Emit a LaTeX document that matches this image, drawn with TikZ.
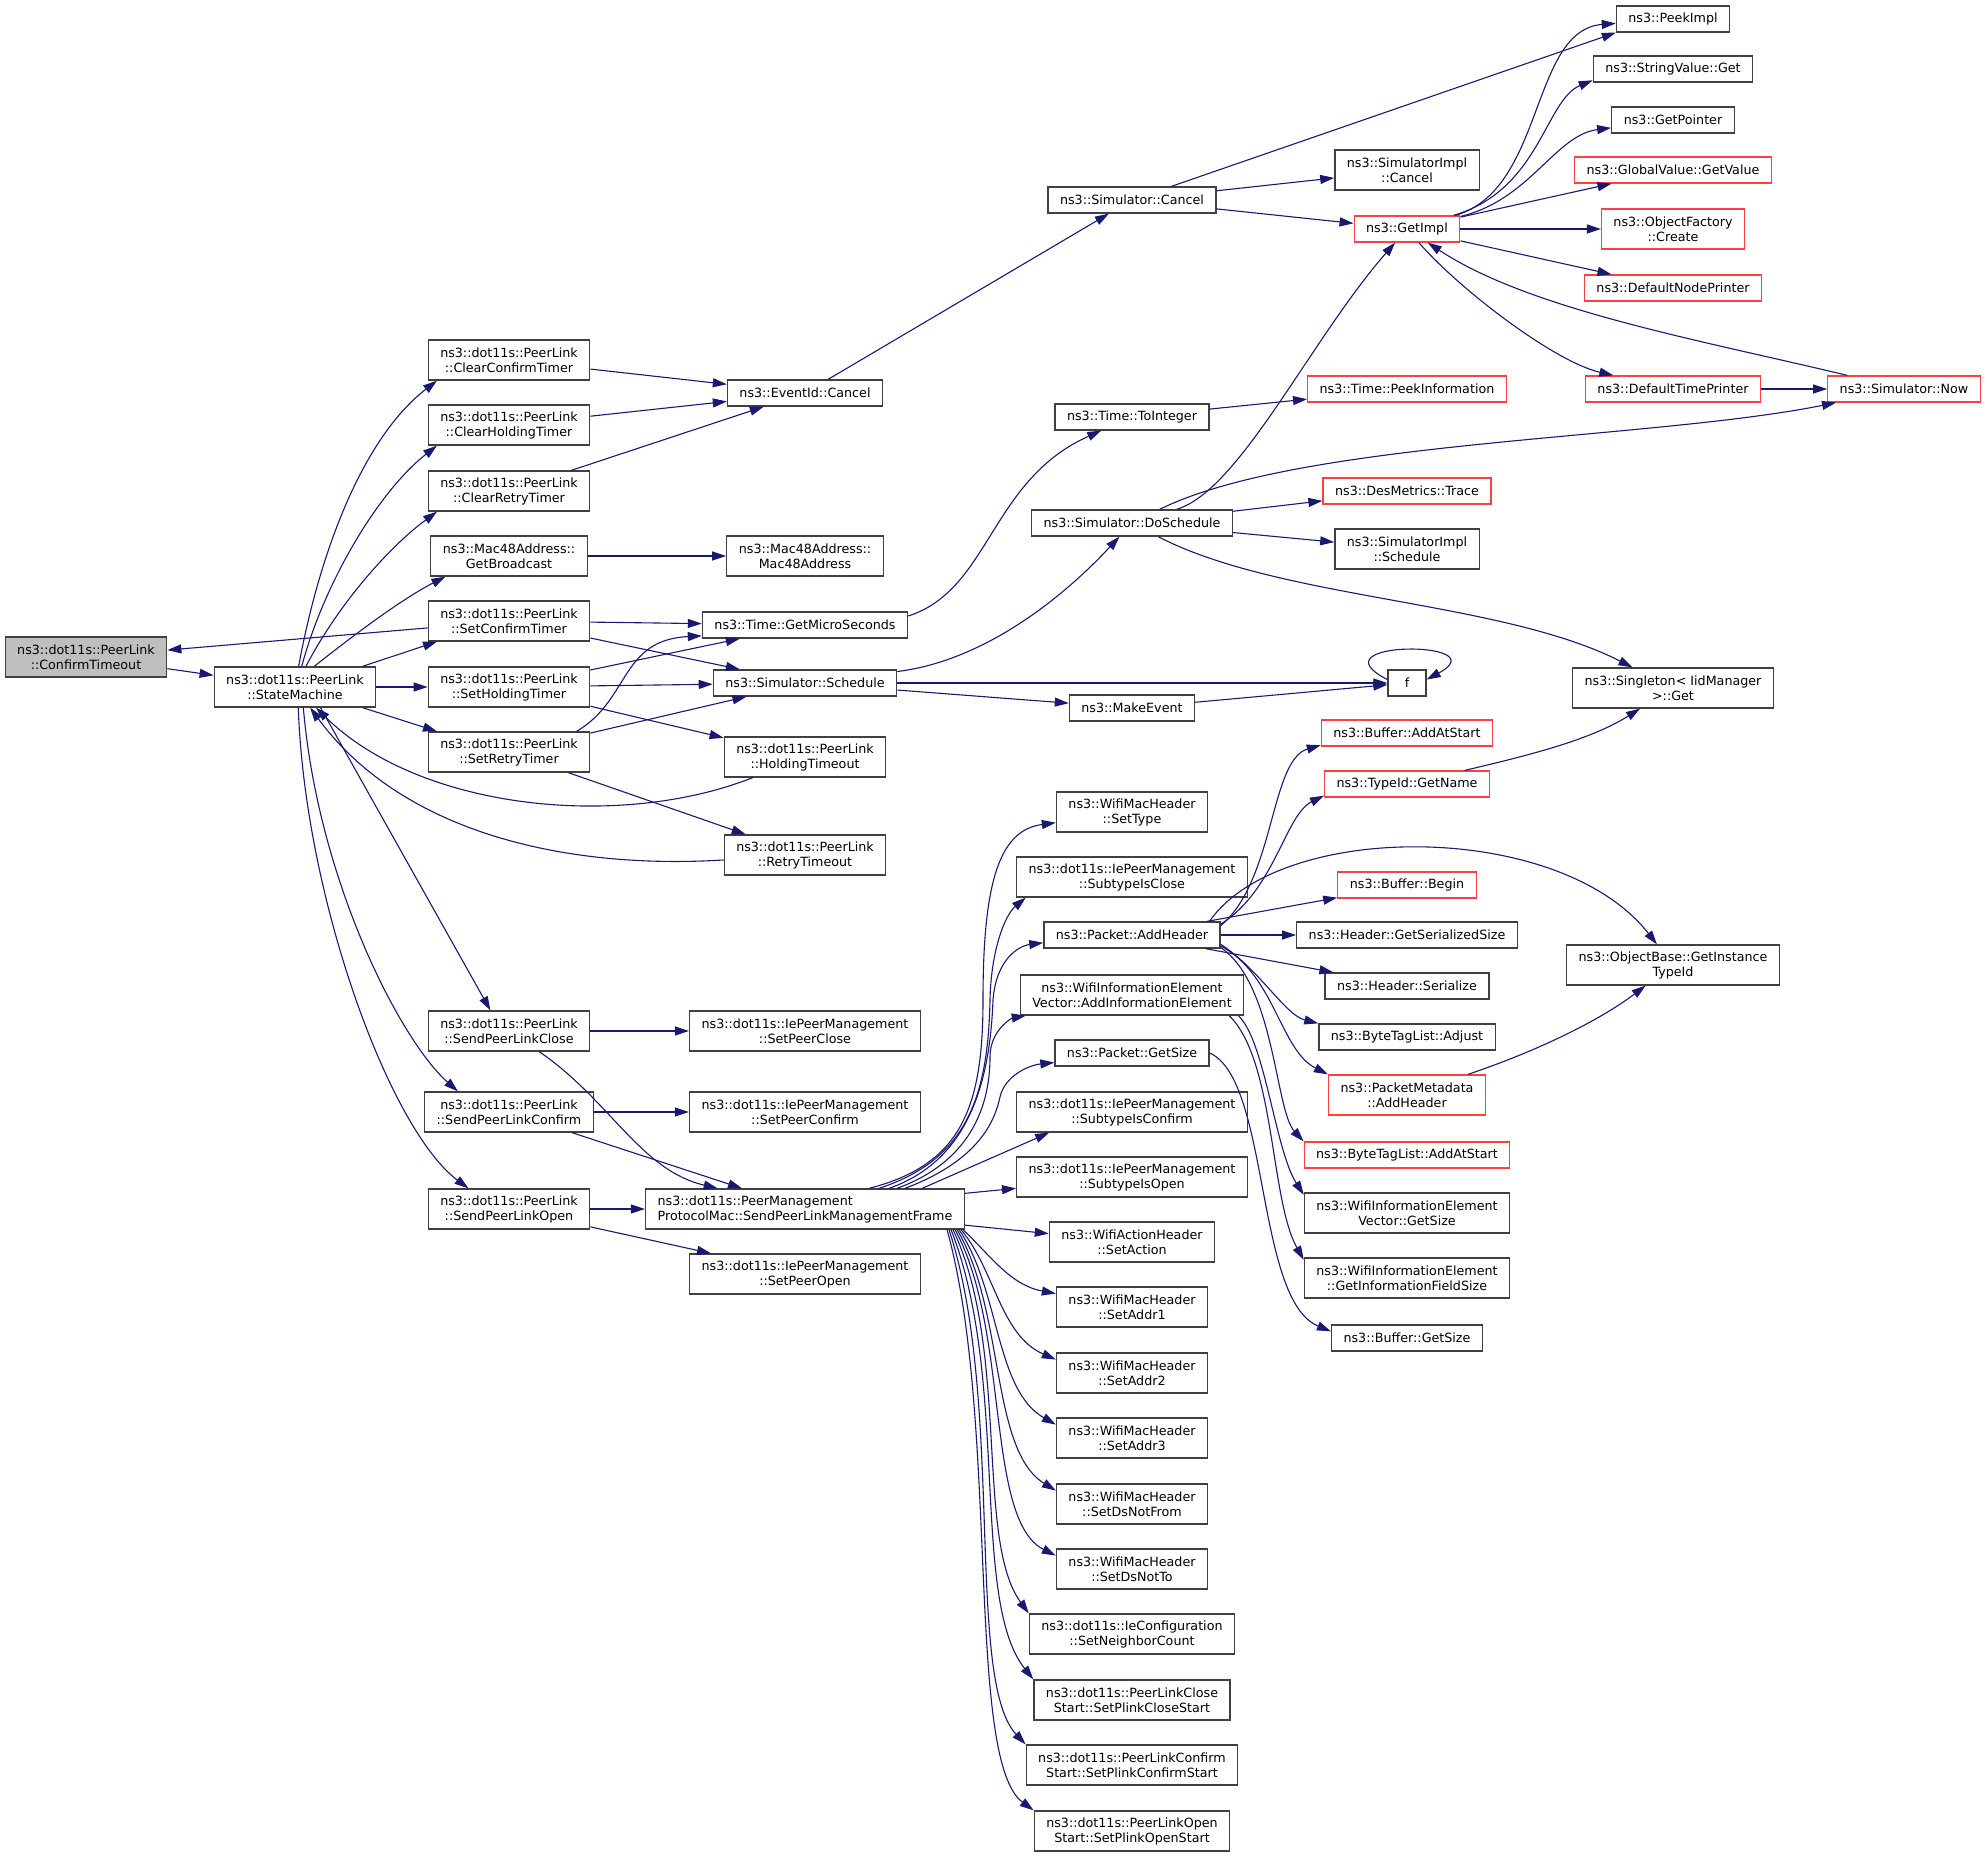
\documentclass[tikz,border=0pt]{standalone}
\usepackage{fontspec}
\setmainfont{DejaVu Sans}
\usetikzlibrary{arrows.meta}

\definecolor{edgeblue}{RGB}{25,25,112}
\definecolor{boxgray}{RGB}{64,64,64}
\definecolor{truncred}{RGB}{255,64,64}
\definecolor{focusgray}{RGB}{191,191,191}

\begin{document}
\begin{tikzpicture}[
    x=0.5pt, y=-0.5pt,
    fn/.style={rectangle, draw=boxgray, line width=0.65pt, fill=white, inner xsep=6pt, inner ysep=1pt, minimum height=13pt, align=center, font=\fontsize{6.35pt}{7.5pt}\selectfont},
    fnb/.style={fn, minimum height=20pt},
    trunc/.style={draw=truncred},
    call/.style={-{Triangle[length=7pt,width=4.5pt]}, draw=edgeblue, line width=0.55pt}
]
\useasboundingbox (0,0) rectangle (1987,1857);

% callers
\node[fnb, fill=focusgray] (ct) at (86,657) {ns3::dot11s::PeerLink\\::ConfirmTimeout};
\node[fnb] (sm) at (295,687) {ns3::dot11s::PeerLink\\::StateMachine};

\node[fnb] (ccT) at (509,360) {ns3::dot11s::PeerLink\\::ClearConfirmTimer};
\node[fnb] (chT) at (509,425) {ns3::dot11s::PeerLink\\::ClearHoldingTimer};
\node[fnb] (crT) at (509,491) {ns3::dot11s::PeerLink\\::ClearRetryTimer};
\node[fnb] (gbc) at (509,556) {ns3::Mac48Address::\\GetBroadcast};
\node[fnb] (scT) at (509,621) {ns3::dot11s::PeerLink\\::SetConfirmTimer};
\node[fnb] (shT) at (509,687) {ns3::dot11s::PeerLink\\::SetHoldingTimer};
\node[fnb] (srT) at (509,752) {ns3::dot11s::PeerLink\\::SetRetryTimer};
\node[fnb] (splc) at (509,1031) {ns3::dot11s::PeerLink\\::SendPeerLinkClose};
\node[fnb] (splcf) at (509,1112) {ns3::dot11s::PeerLink\\::SendPeerLinkConfirm};
\node[fnb] (splo) at (509,1209) {ns3::dot11s::PeerLink\\::SendPeerLinkOpen};

\node[fn] (eic) at (805,393) {ns3::EventId::Cancel};
\node[fnb] (mac) at (805,556) {ns3::Mac48Address::\\Mac48Address};
\node[fn] (gms) at (805,625) {ns3::Time::GetMicroSeconds};
\node[fn] (sch) at (805,683) {ns3::Simulator::Schedule};
\node[fnb] (hto) at (805,757) {ns3::dot11s::PeerLink\\::HoldingTimeout};
\node[fnb] (rto) at (805,855) {ns3::dot11s::PeerLink\\::RetryTimeout};
\node[fnb] (spc) at (805,1031) {ns3::dot11s::IePeerManagement\\::SetPeerClose};
\node[fnb] (spcf) at (805,1112) {ns3::dot11s::IePeerManagement\\::SetPeerConfirm};
\node[fnb, align=left] (mgmt) at (805,1209) {ns3::dot11s::PeerManagement\\ProtocolMac::SendPeerLinkManagementFrame};
\node[fnb] (spo) at (805,1274) {ns3::dot11s::IePeerManagement\\::SetPeerOpen};

\node[fn] (scn) at (1132,200) {ns3::Simulator::Cancel};
\node[fn] (toi) at (1132,417) {ns3::Time::ToInteger};
\node[fn] (dos) at (1132,523) {ns3::Simulator::DoSchedule};
\node[fn] (mke) at (1132,708) {ns3::MakeEvent};
\node[fnb] (stp) at (1132,812) {ns3::WifiMacHeader\\::SetType};
\node[fnb] (sic) at (1132,877) {ns3::dot11s::IePeerManagement\\::SubtypeIsClose};
\node[fn] (pah) at (1132,935) {ns3::Packet::AddHeader};
\node[fnb] (aie) at (1132,995) {ns3::WifiInformationElement\\Vector::AddInformationElement};
\node[fn] (pgs) at (1132,1053) {ns3::Packet::GetSize};
\node[fnb] (sicf) at (1132,1112) {ns3::dot11s::IePeerManagement\\::SubtypeIsConfirm};
\node[fnb] (sio) at (1132,1177) {ns3::dot11s::IePeerManagement\\::SubtypeIsOpen};
\node[fnb] (sac) at (1132,1242) {ns3::WifiActionHeader\\::SetAction};
\node[fnb] (sa1) at (1132,1307) {ns3::WifiMacHeader\\::SetAddr1};
\node[fnb] (sa2) at (1132,1373) {ns3::WifiMacHeader\\::SetAddr2};
\node[fnb] (sa3) at (1132,1438) {ns3::WifiMacHeader\\::SetAddr3};
\node[fnb] (sdf) at (1132,1504) {ns3::WifiMacHeader\\::SetDsNotFrom};
\node[fnb] (sdt) at (1132,1569) {ns3::WifiMacHeader\\::SetDsNotTo};
\node[fnb] (snc) at (1132,1634) {ns3::dot11s::IeConfiguration\\::SetNeighborCount};
\node[fnb] (spcs) at (1132,1700) {ns3::dot11s::PeerLinkClose\\Start::SetPlinkCloseStart};
\node[fnb] (spcfs) at (1132,1765) {ns3::dot11s::PeerLinkConfirm\\Start::SetPlinkConfirmStart};
\node[fnb] (spos) at (1132,1831) {ns3::dot11s::PeerLinkOpen\\Start::SetPlinkOpenStart};

\node[fnb] (simc) at (1407,170) {ns3::SimulatorImpl\\::Cancel};
\node[fn, trunc] (gim) at (1407,229) {ns3::GetImpl};
\node[fn, trunc] (tpi) at (1407,389) {ns3::Time::PeekInformation};
\node[fn, trunc] (dmt) at (1407,491) {ns3::DesMetrics::Trace};
\node[fnb] (sims) at (1407,549) {ns3::SimulatorImpl\\::Schedule};
\node[fn, minimum width=19pt] (f) at (1407,683) {f};
\node[fn, trunc] (bas) at (1407,733) {ns3::Buffer::AddAtStart};
\node[fn, trunc] (tgn) at (1407,784) {ns3::TypeId::GetName};
\node[fn, trunc] (bbg) at (1407,885) {ns3::Buffer::Begin};
\node[fn] (hgs) at (1407,935) {ns3::Header::GetSerializedSize};
\node[fn] (hser) at (1407,986) {ns3::Header::Serialize};
\node[fn] (bta) at (1407,1037) {ns3::ByteTagList::Adjust};
\node[fnb, trunc] (pmd) at (1407,1095) {ns3::PacketMetadata\\::AddHeader};
\node[fn, trunc] (btas) at (1407,1155) {ns3::ByteTagList::AddAtStart};
\node[fnb] (wgs) at (1407,1213) {ns3::WifiInformationElement\\Vector::GetSize};
\node[fnb] (gifs) at (1407,1278) {ns3::WifiInformationElement\\::GetInformationFieldSize};
\node[fn] (bgs) at (1407,1338) {ns3::Buffer::GetSize};

\node[fn] (pki) at (1673,19) {ns3::PeekImpl};
\node[fn] (svg) at (1673,69) {ns3::StringValue::Get};
\node[fn] (gpt) at (1673,120) {ns3::GetPointer};
\node[fn, trunc] (ggv) at (1673,170) {ns3::GlobalValue::GetValue};
\node[fnb, trunc] (ofc) at (1673,229) {ns3::ObjectFactory\\::Create};
\node[fn, trunc] (dnp) at (1673,288) {ns3::DefaultNodePrinter};
\node[fn, trunc] (dtp) at (1673,389) {ns3::DefaultTimePrinter};
\node[fnb] (sgt) at (1673,688) {ns3::Singleton< IidManager\\>::Get};
\node[fnb] (obg) at (1673,965) {ns3::ObjectBase::GetInstance\\TypeId};
\node[fn, trunc] (snow) at (1904,389) {ns3::Simulator::Now};

% state machine
\draw[call] (ct) -- (sm);
\draw[call] (scT) -- (ct);
\draw[call] (sm.80) .. controls (318,560) and (360,440) .. (ccT.-164);
\draw[call] (sm.72) .. controls (325,580) and (380,490) .. (chT.-164);
\draw[call] (sm.62) .. controls (335,610) and (385,550) .. (crT.-164);
\draw[call] (sm.47) .. controls (350,638) and (400,600) .. (gbc.-162);
\draw[call] (sm.17) -- (scT.-164);
\draw[call] (sm) -- (shT);
\draw[call] (sm.-17) -- (srT.164);
\draw[call] (sm.-39) -- (splc.132);
\draw[call] (sm.-68) .. controls (318,880) and (400,1040) .. (splcf.158);
\draw[call] (sm.-81) .. controls (305,900) and (390,1130) .. (splo.153);
\draw[call] (hto) .. controls (620,830) and (420,810) .. (sm);
\draw[call] (rto) .. controls (560,870) and (400,830) .. (sm);

% timers
\draw[call] (ccT) -- (eic);
\draw[call] (chT) -- (eic);
\draw[call] (crT) -- (eic);
\draw[call] (gbc) -- (mac);
\draw[call] (scT) -- (gms);
\draw[call] (scT) -- (sch);
\draw[call] (shT) -- (gms);
\draw[call] (shT) -- (sch);
\draw[call] (shT) -- (hto);
\draw[call] (srT.17) .. controls (630,700) and (620,640) .. (gms.-174);
\draw[call] (srT) -- (sch);
\draw[call] (srT) -- (rto);

% send frames
\draw[call] (splc) -- (spc);
\draw[call] (splc) .. controls (610,1100) and (640,1170) .. (mgmt);
\draw[call] (splcf) -- (spcf);
\draw[call] (splcf) -- (mgmt);
\draw[call] (splo) -- (mgmt);
\draw[call] (splo) -- (spo);

% simulator
\draw[call] (eic) -- (scn);
\draw[call] (gms.5) .. controls (990,590) and (990,480) .. (toi);
\draw[call] (sch) .. controls (990,660) and (1070,590) .. (dos);
\draw[call] (sch) -- (f);
\draw[call] (sch) -- (mke);
\draw[call] (mke) -- (f);
\draw[call] (f.170) .. controls (1310,640) and (1500,640) .. (f.10);
\draw[call] (scn) -- (pki.south west);
\draw[call] (scn) -- (simc);
\draw[call] (scn) -- (gim);
\draw[call] (toi) -- (tpi);
\draw[call] (dos) .. controls (1240,490) and (1310,340) .. (gim);
\draw[call] (dos) .. controls (1300,440) and (1650,440) .. (snow);
\draw[call] (dos) -- (dmt);
\draw[call] (dos) -- (sims);
\draw[call] (dos) .. controls (1280,600) and (1500,600) .. (sgt);

\draw[call] (gim) .. controls (1545,190) and (1530,30) .. (pki);
\draw[call] (gim) .. controls (1540,190) and (1545,100) .. (svg.-172);
\draw[call] (gim) .. controls (1530,200) and (1555,135) .. (gpt);
\draw[call] (gim) -- (ggv);
\draw[call] (gim) -- (ofc);
\draw[call] (gim) -- (dnp);
\draw[call] (gim) .. controls (1460,290) and (1555,362) .. (dtp);
\draw[call] (dtp) -- (snow);
\draw[call] (snow) .. controls (1700,340) and (1530,310) .. (gim);

% management frame
\draw[call] ([xshift=32pt]mgmt.north) .. controls (960,1165) and (983,1110) .. (983,1000) .. controls (983,880) and (1000,830) .. (stp.-172);
\draw[call] ([xshift=37pt]mgmt.north) .. controls (965,1160) and (988,1100) .. (990,1000) .. controls (991,950) and (1005,915) .. (sic.-169);
\draw[call] ([xshift=42pt]mgmt.north) .. controls (970,1160) and (990,1080) .. (993,1000) .. controls (996,960) and (1018,946) .. (pah.-175);
\draw[call] ([xshift=46pt]mgmt.north) .. controls (975,1160) and (990,1100) .. (990,1057) .. controls (990,1030) and (1012,1018) .. (aie.-169);
\draw[call] ([xshift=50pt]mgmt.north) .. controls (980,1160) and (995,1120) .. (1000,1097) .. controls (1005,1075) and (1030,1065) .. (pgs.-173);
\draw[call] (mgmt.10) -- (sicf.-166);
\draw[call] (mgmt) -- (sio);
\draw[call] (mgmt) -- (sac);
\draw[call] ([xshift=-1pt]mgmt.south east) .. controls (990,1255) and (1010,1285) .. (sa1.170);
\draw[call] ([xshift=-2pt]mgmt.south east) .. controls (995,1270) and (1000,1335) .. (sa2.170);
\draw[call] ([xshift=-3pt]mgmt.south east) .. controls (1000,1290) and (995,1390) .. (sa3.170);
\draw[call] ([xshift=-4pt]mgmt.south east) .. controls (1005,1310) and (990,1450) .. (sdf.170);
\draw[call] ([xshift=-5pt]mgmt.south east) .. controls (1010,1330) and (985,1520) .. (sdt.170);
\draw[call] ([xshift=-6pt]mgmt.south east) .. controls (1010,1350) and (975,1540) .. (snc.north west);
\draw[call] ([xshift=-7pt]mgmt.south east) .. controls (1010,1380) and (970,1600) .. (spcs.north west);
\draw[call] ([xshift=-8pt]mgmt.south east) .. controls (1005,1400) and (965,1680) .. (spcfs.north west);
\draw[call] ([xshift=-9pt]mgmt.south east) .. controls (1000,1420) and (965,1760) .. (spos.north west);

% packet header
\draw[call] (pah.6) .. controls (1275,880) and (1270,760) .. (bas.-172);
\draw[call] (pah.7) .. controls (1275,890) and (1285,815) .. (tgn.-172);
\draw[call] (pah.10) .. controls (1280,820) and (1560,820) .. (obg);
\draw[call] (pah) -- (bbg);
\draw[call] (pah) -- (hgs);
\draw[call] (pah) -- (hser);
\draw[call] (pah.-6) .. controls (1260,970) and (1285,1015) .. (bta.north west);
\draw[call] (pah.-7) .. controls (1275,975) and (1280,1050) .. (pmd.north west);
\draw[call] (pah.-8) .. controls (1275,985) and (1275,1110) .. (btas.north west);
\draw[call] (tgn) .. controls (1530,755) and (1590,740) .. (sgt);
\draw[call] (pmd) .. controls (1540,1050) and (1600,1020) .. (obg);
\draw[call] (aie.-11) .. controls (1265,1040) and (1275,1150) .. (wgs.170);
\draw[call] (aie.-12) .. controls (1275,1060) and (1270,1200) .. (gifs.170);
\draw[call] (pgs.east) .. controls (1270,1080) and (1255,1300) .. (bgs.175);

\end{tikzpicture}
\end{document}
